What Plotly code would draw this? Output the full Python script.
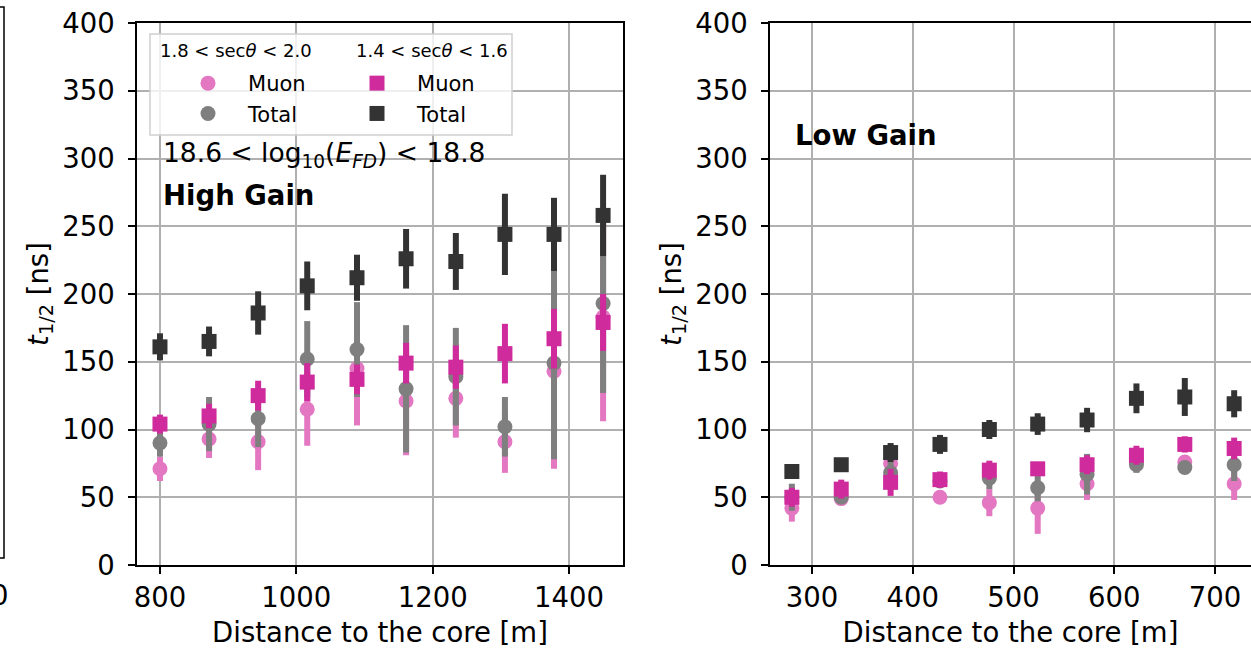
import plotly.graph_objects as go

W, H = 1251, 649

# ---------------- data ----------------
# High gain panel (left)
x_hg = [800, 872, 944, 1016, 1089, 1161, 1234, 1306, 1378, 1450]
mu20_hg = [71, 93, 91, 115, 145, 121, 123, 91, 143, 183]
mu20_hg_err = [9, 14, 21, 27, 42, 40, 29, 23, 72, 77]
tot20_hg = [90, 104, 108, 152, 159, 130, 139, 102, 149, 193]
tot20_hg_err = [10, 20, 21, 28, 35, 47, 36, 22, 71, 66]
mu16_hg = [104, 110, 125, 135, 137, 149, 146, 156, 167, 179]
mu16_hg_err = [7, 9, 11, 14, 11, 15, 16, 22, 22, 21]
tot16_hg = [161, 165, 186, 206, 212, 226, 224, 244, 244, 258]
tot16_hg_err = [10, 11, 16, 18, 17, 22, 21, 30, 27, 30]

# Low gain panel (right)
x_lg = [280, 329, 378, 427, 476, 524, 573, 622, 670, 719]
mu20_lg = [42, 49, 75, 50, 46, 42, 60, 76, 76, 60]
mu20_lg_err = [10, 3, 3, 3, 10, 19, 12, 4, 4, 12]
tot20_lg = [50, 50, 68, 62, 64, 57, 67, 74, 72, 74]
tot20_lg_err = [10, 3, 8, 4, 8, 10, 15, 6, 4, 12]
mu16_lg = [50, 56, 61, 63, 70, 71, 74, 81, 89, 86]
mu16_lg_err = [7, 7, 10, 6, 7, 5, 7, 7, 6, 8]
tot16_lg = [69, 74, 83, 89, 100, 104, 107, 123, 124, 119]
tot16_lg_err = [4, 5, 7, 7, 7, 8, 9, 11, 14, 10]

hg_ticks = [800, 1000, 1200, 1400]
lg_ticks = [300, 400, 500, 600, 700]
y_ticks = [0, 50, 100, 150, 200, 250, 300, 350, 400]

# ---------------- style ----------------
C_MU20 = "#e377c2"
C_TOT20 = "#7f7f7f"
C_MU16 = "#cf2b9c"
C_TOT16 = "#333333"
FONT = "DejaVu Sans"
FS = 27.5


def px(x):
    return x / W


def py(y):
    return 1 - y / H


fig = go.Figure()

series = [
    ("mu20", "Muon", C_MU20, "circle", "legend"),
    ("tot20", "Total", C_TOT20, "circle", "legend"),
    ("mu16", "Muon", C_MU16, "square", "legend2"),
    ("tot16", "Total", C_TOT16, "square", "legend2"),
]
hg = {"mu20": (mu20_hg, mu20_hg_err), "tot20": (tot20_hg, tot20_hg_err),
      "mu16": (mu16_hg, mu16_hg_err), "tot16": (tot16_hg, tot16_hg_err)}
lg = {"mu20": (mu20_lg, mu20_lg_err), "tot20": (tot20_lg, tot20_lg_err),
      "mu16": (mu16_lg, mu16_lg_err), "tot16": (tot16_lg, tot16_lg_err)}

for key, label, col, sym, leg in series:
    yv, ye = hg[key]
    fig.add_trace(go.Scatter(
        x=x_hg, y=yv, mode="markers", name="   " + label, legend=leg,
        marker=dict(symbol=sym, size=15, color=col, line=dict(width=0)),
        error_y=dict(type="data", array=ye, visible=True, color=col, thickness=6, width=0),
        xaxis="x", yaxis="y", showlegend=True,
    ))
for key, label, col, sym, leg in series:
    yv, ye = lg[key]
    fig.add_trace(go.Scatter(
        x=x_lg, y=yv, mode="markers", name=label, legend=leg,
        marker=dict(symbol=sym, size=15, color=col, line=dict(width=0)),
        error_y=dict(type="data", array=ye, visible=True, color=col, thickness=6, width=0),
        xaxis="x2", yaxis="y2", showlegend=False,
    ))

axis_common = dict(
    showline=True, linecolor="black", linewidth=1.5,
    ticks="outside", ticklen=7, tickwidth=1.5, tickcolor="black",
    showgrid=True, gridcolor="#b0b0b0", gridwidth=1.5,
    zeroline=False, tickfont=dict(family=FONT, size=FS, color="black"),
    automargin=False,
)
xt = dict(text="Distance to the core [m]", font=dict(size=FS, family=FONT), standoff=11)
yt = dict(text="<i>t</i><sub>1/2</sub> [ns]", font=dict(size=FS, family=FONT), standoff=6)

ydom = [py(565), py(23)]

fig.update_layout(
    width=W, height=H,
    margin=dict(l=0, r=0, t=0, b=0, autoexpand=False),
    paper_bgcolor="white", plot_bgcolor="white",
    font=dict(family=FONT, color="black"),
    xaxis=dict(domain=[px(137), px(623)], range=[766.3, 1479.2], tickvals=hg_ticks,
               mirror=True, anchor="y", title=xt, ticklabelstandoff=0, **axis_common),
    yaxis=dict(domain=ydom, range=[0, 400], tickvals=y_ticks, mirror=True, anchor="x",
               title=yt, ticklabelstandoff=8, **axis_common),
    xaxis2=dict(domain=[px(770), 1.0], range=[258.3, 735.7], tickvals=lg_ticks,
                mirror=True, anchor="y2", title=xt, ticklabelstandoff=0, **axis_common),
    yaxis2=dict(domain=ydom, range=[0, 400], tickvals=y_ticks, mirror=False, anchor="x2",
                title=yt, ticklabelstandoff=8, **axis_common),
    legend=dict(
        x=px(188), y=py(63), xanchor="left", yanchor="top",
        bgcolor="rgba(0,0,0,0)", borderwidth=0,
        font=dict(family=FONT, size=21, color="black"),
        tracegroupgap=0, itemwidth=30,
    ),
    legend2=dict(
        x=px(357), y=py(63), xanchor="left", yanchor="top",
        bgcolor="rgba(0,0,0,0)", borderwidth=0,
        font=dict(family=FONT, size=21, color="black"),
        tracegroupgap=0, itemwidth=30,
    ),
)

# legend frame (semi-transparent)
fig.add_shape(type="rect", xref="paper", yref="paper",
              x0=px(150), x1=px(512), y0=py(135), y1=py(34),
              fillcolor="rgba(255,255,255,0.8)", line=dict(color="#d0d0d0", width=1.5),
              layer="above")

# legend column headers
fig.add_annotation(x=px(236), y=py(50), xref="paper", yref="paper",
                   text="1.8 < sec<i>θ</i> < 2.0", showarrow=False,
                   xanchor="center", yanchor="middle",
                   font=dict(family=FONT, size=18, color="black"))
fig.add_annotation(x=px(432), y=py(50), xref="paper", yref="paper",
                   text="1.4 < sec<i>θ</i> < 1.6", showarrow=False,
                   xanchor="center", yanchor="middle",
                   font=dict(family=FONT, size=18, color="black"))

# neighbouring (cropped) panel frame on the far left
fig.add_shape(type="rect", xref="paper", yref="paper",
              x0=-0.02, x1=px(4), y0=py(558), y1=py(7),
              line=dict(color="black", width=1.5), fillcolor="rgba(0,0,0,0)")
fig.add_annotation(x=px(0), y=py(595), xref="paper", yref="paper", text="0",
                   showarrow=False, xanchor="center", yanchor="middle",
                   font=dict(family=FONT, size=FS, color="black"))

fig.add_annotation(x=px(161), y=py(155), xref="paper", yref="paper",
                   text="18.6 < log<sub>10</sub>(<i>E<sub>FD</sub></i>) < 18.8",
                   showarrow=False, xanchor="left", yanchor="middle",
                   font=dict(family=FONT, size=26.5, color="black"))
fig.add_annotation(x=px(161), y=py(195), xref="paper", yref="paper",
                   text="<b>High Gain</b>", showarrow=False, xanchor="left", yanchor="middle",
                   font=dict(family=FONT, size=FS, color="black"))
fig.add_annotation(x=px(793), y=py(135), xref="paper", yref="paper",
                   text="<b>Low Gain</b>", showarrow=False, xanchor="left", yanchor="middle",
                   font=dict(family=FONT, size=FS, color="black"))

fig.write_html("out.html")
